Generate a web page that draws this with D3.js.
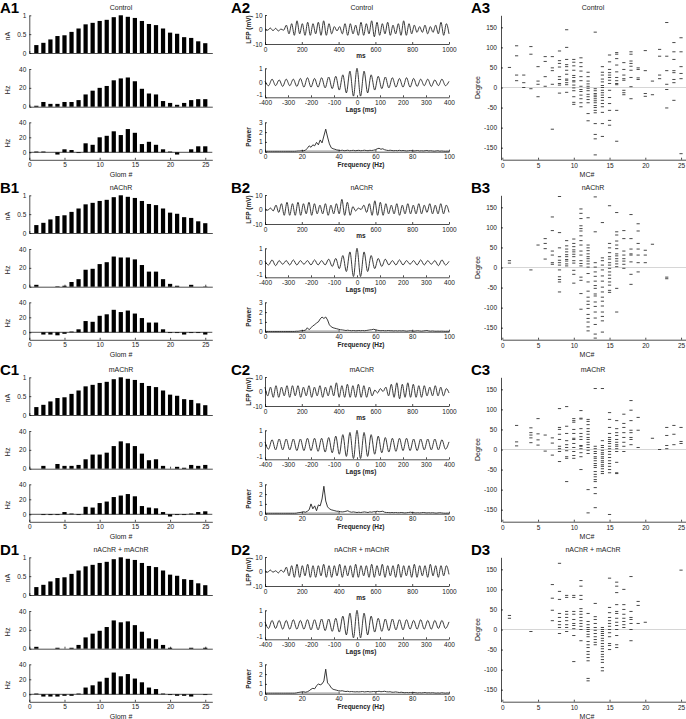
<!DOCTYPE html>
<html>
<head>
<meta charset="utf-8">
<script src="https://cdn.jsdelivr.net/npm/d3@7"></script>
<style>
body { margin: 0; background: #fff; }
svg { display: block; background: #fff; font-family: "Liberation Sans", Arial, sans-serif; }
.axis path, .axis line { stroke: #000; stroke-width: 0.7; }
.axis text { font-size: 6.5px; fill: #222; font-family: "Liberation Sans", Arial, sans-serif; }
.lbl { font-size: 7px; fill: #222; }
.blbl { font-size: 6.5px; font-weight: bold; fill: #222; }
.panel { font-size: 15px; font-weight: bold; fill: #000; }
</style>
</head>
<body>
<svg></svg>
<script>
var conditions = ["Control", "nAChR", "mAChR", "nAChR + mAChR"],
    letters = ["A", "B", "C", "D"]

// column 1: glomerular input and rates
var glomCurrent = [0.21, 0.27, 0.36, 0.45, 0.47, 0.56, 0.65, 0.76, 0.80, 0.85, 0.88, 0.95, 1.0, 0.96, 0.93, 0.85, 0.77, 0.74, 0.65, 0.54, 0.51, 0.42, 0.40, 0.31, 0.26]

var rateControl = [1, 5, 3, 3, 5, 5, 7, 13, 17, 20, 22, 28, 30, 31, 27, 19, 14, 13, 6, 4, 2, 4, 7, 8, 8]
var rateNAChR = [2, 0, 0, 0.5, 1, 5, 8, 18, 19, 24, 26, 32, 31, 31, 29, 23, 16, 16, 8, 3, 1, 0, 2, 0, 0.3]
var rateMAChR = [0, 3, 0, 5, 3, 3, 4, 10, 15, 15, 17, 24, 29, 27, 24, 16, 9, 10, 3, 0, 2, 1, 4, 3, 4]
var rateBoth = [2, 0, 0, 1, 0, 1, 4, 12, 16, 19, 23, 30, 28, 29, 25, 18, 11, 10, 4, 1, 0, 0, 1, 0, 1]

var diffControl = [1, 1, 0, -3, 4, 3, -1, 12, 10, 20, 22, 28, 23, 31, 26, 11, 14, 10, 4, 1, -3, 0, 4, 8, 8]
var diffNAChR = [0, -3, -3, -4, -2, 1, 4, 15, 14, 22, 24, 30, 27, 29, 25, 19, 13, 13, 4, -1, -1, -3, -1, -1, -3]
var diffMAChR = [0, -1, -1, -1, 3, 1, -1, 10, 9, 15, 17, 23, 25, 27, 24, 11, 9, 8, 3, -3, -1, -1, 1, 3, 4]
var diffBoth = [1, -3, -3, -3, -2, -2, 1, 9, 12, 17, 22, 29, 24, 27, 21, 16, 9, 7, 1, -1, -2, -2, -3, 0, -1]

// column 2: LFP extrema (0-1000 ms), autocorrelation extrema (lag >= 0), power (0-100 Hz)
var lfpControl = [0.5,-0.5, 1,-0.8, 0.8,-1, 0.3,-0.5, 3,-3, 4,-4, 6,-3, 4,-4, 5,-4, 4,-3, 5,-4, 6,-4, 4,-3, 2,-1, 2,-3, 4,-4, 4,-3, 3,-4, 5,-4, 4,-3, 6,-5, 5,-4, 4,-3, 5,-4, 3,-3, 4,-4, 6,-4, 4,-3, 3,-2, 2,-2, 3,-3, 2,-2, 3,-3, 5,-4, 4,-3]
var lfpNAChR = [0.5,-0.5, 1,-1, 3,-2, 4,-4, 5,-4, 4,-4, 5,-4, 4,-3, 5,-4, 4,-3, 3,-3, 4,-4, 3,-3, 4,-3, 7,-4, 5,-4, 2,-1, 1,0, 3,-2, 4,-4, 6,-4, 5,-4, 4,-3, 3,-3, 4,-4, 3,-3, 4,-3, 3,-3, 4,-3, 3,-2, 4,-3, 3,-3, 4,-3, 3,-2]
var lfpMAChR = [3,-3, 3,-4, 4,-4, 3,-3, 4,-4, 4,-3, 4,-4, 3,-3, 4,-4, 3,-3, 4,-4, 3,-3, 4,-3, 6,-4, 4,-4, 5,-4, 4,-4, 5,-4, 4,-4, 3,-3, 1,-1, 2,0, 3,-3, 5,-4, 6,-5, 5,-4, 6,-4, 5,-4, 4,-4, 4,-3, 3,-3, 4,-3, 3,-3, 2,-1]
var lfpBoth = [0.5,-0.5, 1,-0.5, 0.5,-1, 1,-0.5, 3,-3, 4,-4, 5,-4, 4,-3, 5,-4, 4,-4, 4,-3, 5,-4, 4,-4, 4,-3, 5,-4, 4,-3, 4,-4, 5,-4, 4,-3, 4,-4, 5,-4, 4,-3, 5,-4, 4,-3, 4,-4, 5,-4, 4,-3, 4,-4, 5,-4, 4,-3, 4,-4, 5,-3, 4,-4, 4,-3, 4,-2]

var acorrControl = [1, -0.92, 0.8, -0.7, 0.55, -0.5, 0.45, -0.4, 0.4, -0.35, 0.35, -0.3, 0.3, -0.3, 0.35, -0.3, 0.3, -0.25, 0.25, -0.2, 0.25, -0.25, 0.2, -0.2, 0.25, -0.2, 0.1]
var acorrNAChR = [1, -0.95, 0.75, -0.6, 0.5, -0.4, 0.3, -0.25, 0.25, -0.15, 0.15, -0.15, 0.2, -0.15, 0.15, -0.1, 0.15, -0.15, 0.2, -0.15, 0.15, -0.1, 0.15, -0.2, 0.2, -0.15, 0.1]
var acorrMAChR = [1, -0.95, 0.85, -0.8, 0.7, -0.65, 0.6, -0.55, 0.5, -0.5, 0.45, -0.45, 0.45, -0.4, 0.45, -0.4, 0.4, -0.4, 0.4, -0.35, 0.4, -0.35, 0.4, -0.35, 0.35, -0.3, 0.2]
var acorrBoth = [1, -0.9, 0.8, -0.7, 0.6, -0.5, 0.45, -0.45, 0.4, -0.4, 0.4, -0.35, 0.35, -0.35, 0.35, -0.3, 0.3, -0.3, 0.35, -0.3, 0.3, -0.3, 0.3, -0.25, 0.3, -0.25, 0.2]

var powerControl = [0.05,0.05,0.05,0.05,0.05,0.05,0.05,0.05,0.05,0.05,0.05,0.05,0.05,0.05,0.05,0.05,0.05,0.06,0.08,0.08,
  0.1,0.1,0.15,0.35,0.6,0.45,0.7,0.6,0.95,0.7, 1.2,0.9,1.6,2.3,1.5,0.8,0.4,0.3,0.25,0.18,
  0.15,0.12,0.15,0.1,0.12,0.15,0.1,0.12,0.14,0.1, 0.12,0.14,0.1,0.12,0.15,0.12,0.1,0.14,0.12,0.15,
  0.2,0.3,0.35,0.25,0.3,0.2,0.15,0.12,0.15,0.12, 0.1,0.12,0.1,0.14,0.1,0.12,0.1,0.08,0.1,0.12,
  0.1,0.08,0.1,0.12,0.08,0.1,0.08,0.1,0.12,0.08, 0.1,0.08,0.06,0.08,0.1,0.06,0.08,0.06,0.05,0.06, 0.05]
var powerNAChR = [0.03,0.03,0.03,0.03,0.03,0.03,0.03,0.03,0.03,0.03,0.03,0.03,0.03,0.03,0.03,0.03,0.03,0.05,0.05,0.08,
  0.1,0.12,0.15,0.4,0.2,0.4,0.6,0.7,0.9,1.0, 1.3,1.5,1.35,1.5,1.2,0.7,0.5,0.4,0.35,0.3,
  0.25,0.2,0.18,0.15,0.12,0.15,0.12,0.1,0.12,0.1, 0.1,0.12,0.1,0.12,0.1,0.12,0.15,0.18,0.2,0.25,
  0.2,0.15,0.12,0.1,0.12,0.1,0.1,0.12,0.1,0.1, 0.08,0.1,0.08,0.1,0.08,0.1,0.08,0.06,0.08,0.1,
  0.08,0.06,0.08,0.1,0.08,0.06,0.08,0.1,0.12,0.08, 0.06,0.08,0.06,0.05,0.06,0.05,0.06,0.05,0.04,0.05, 0.04]
var powerMAChR = [0.05,0.05,0.05,0.05,0.05,0.05,0.05,0.05,0.05,0.05,0.05,0.05,0.05,0.05,0.05,0.05,0.05,0.06,0.1,0.12,
  0.15,0.2,0.15,0.25,0.4,1.0,0.5,0.8,0.3,0.9, 0.8,1.5,2.8,1.3,0.7,0.5,0.4,0.35,0.3,0.25,
  0.25,0.2,0.18,0.2,0.25,0.3,0.2,0.15,0.18,0.15, 0.12,0.15,0.12,0.15,0.18,0.15,0.12,0.18,0.15,0.2,
  0.2,0.25,0.2,0.22,0.25,0.15,0.12,0.12,0.1,0.12, 0.1,0.12,0.1,0.1,0.12,0.1,0.08,0.1,0.12,0.15,
  0.12,0.1,0.08,0.1,0.08,0.1,0.12,0.1,0.08,0.1, 0.08,0.1,0.08,0.06,0.08,0.1,0.08,0.06,0.05,0.06, 0.05]
var powerBoth = [0.06,0.06,0.06,0.06,0.06,0.06,0.06,0.06,0.06,0.06,0.06,0.06,0.06,0.06,0.06,0.06,0.06,0.08,0.12,0.15,
  0.18,0.2,0.15,0.2,0.3,0.45,0.55,0.5,0.8,1.0, 0.9,1.0,1.3,2.5,1.1,0.9,0.6,0.45,0.4,0.35,
  0.3,0.28,0.3,0.25,0.22,0.25,0.2,0.22,0.2,0.18, 0.2,0.18,0.2,0.22,0.18,0.2,0.22,0.18,0.2,0.22,
  0.2,0.22,0.25,0.2,0.22,0.25,0.2,0.18,0.2,0.15, 0.15,0.18,0.15,0.12,0.15,0.12,0.1,0.12,0.1,0.12,
  0.1,0.12,0.1,0.08,0.1,0.08,0.1,0.12,0.08,0.1, 0.08,0.1,0.08,0.06,0.08,0.06,0.1,0.08,0.06,0.08, 0.06]
var gammaBand = [20, 40]

// column 3: spike phase (degree) per mitral cell, MC1..MC25
var phaseControl = [
  [50], [104, 79, 31, 17], [31, 12, 0], [102, 83, -3], [52, 16, 8, -23],
  [77, 65, 27, 3], [77, 49, 42, 8, -104], [91, 67, 60, 51, 27, 20, 10, 6, -14],
  [144, 100, 70, 57, 52, 43, 33, 21, 18, 12, 7, -12],
  [70, 63, 54, 43, 30, 25, 17, 14, 6, -1, -8, -23, -37, -42],
  [74, 62, 52, 41, 27, 17, 3, -5, -10, -19, -28, -38, -48],
  [38, 27, 16, 9, 3, -2, -8, -17, -23, -30, -38, -65, -83],
  [138, -3, -8, -15, -19, -23, -28, -33, -38, -45, -50, -57, -63, -90, -117, -128, -168],
  [52, 38, 31, 21, 14, 5, 0, -7, -13, -19, -25, -32, -40, -48, -62, -90, -122],
  [81, 64, 45, 37, 31, 25, 18, 10, -7, -25, -40, -57, -82, -94],
  [87, 83, 72, 56, 39, 25, 17, 10, 7, -57, -134],
  [62, 45, 31, 22, 18, -7, -13, -18], [89, 83, 66, 60, 53, 43, 25, 2, -28],
  [49, 45, 24, 20], [92, 42, -15, -22], [16, -18], [95, 78, 31, 22],
  [162, 78, 42, 8, -5, -51], [112, 89, 70, 42, 37, 20, 12, -32], [124, 89, 52, 35, 22, -165]
]
var phaseNAChR = [
  [17, 11], [], [], [-6], [56], [72, 60, 47, 21], [126, 92, 41, 31, 12, 8],
  [177, 87, 49, 27, 18, 12, 6, -6, -23, -30, -36, -61],
  [67, 54, 46, 39, 32, 27, 20, 16, 9, 4],
  [71, 60, 52, 44, 39, 33, 27, 17, 11, -7, -17, -39],
  [146, 135, 122, 104, 97, 91, 79, 67, 56, 41, 31, 17, 10, 4, -24, -32, -65, -104],
  [124, 56, 49, 42, 34, 27, 22, 16, 9, 1, -15, -36, -59, -74, -84, -92, -102, -117, -127, -136, -148, -158],
  [176, 89, 12, 1, -11, -22, -34, -45, -52, -66, -71, -86, -97, -111, -126, -142, -166, -176],
  [112, 24, 17, 6, -6, -21, -34, -49, -61, -74, -84, -96, -111, -122, -133, -161],
  [154, 60, 49, 37, 27, 21, 12, 6, -2, -11, -19, -27, -36, -44, -57, -62],
  [137, 89, 81, 66, 56, 47, 34, 29, 22, 16, 9, 2, -52, -111],
  [92, 72, 41, 31, 22, 16, 8, -2], [132, 72, 46, 34, 31, 14, -17, -42],
  [109, 91, 60, 46, 31, 12, -11], [43, 31, 12], [58], [], [-24, -28], [], []
]
var phaseMAChR = [
  [], [60, 19, 9], [], [54, 42, 36, 29, 17], [77, 39, 24, 11], [36, -4], [29, 16, -14],
  [102, 55, 50, 38, 25, 8, 2, -5, -30],
  [107, 58, 40, 22, 12, 5, -3, -18, -22, -80],
  [77, 72, 68, 50, 40, 28, 25, 15, 5, -5, -15, -22],
  [97, 78, 76, 52, 40, 32, 25, 10, 8, 2, -8, -18, -50],
  [75, 70, 62, 52, 45, 38, 30, 25, 18, 12, 5, -2, -10, -100, -158],
  [152, 8, 2, -5, -10, -18, -22, -28, -35, -40, -45, -55, -62, -68, -75, -80, -95, -110, -145],
  [152, 22, 10, 5, -2, -8, -12, -18, -22, -28, -32, -38, -42, -48, -55, -60],
  [92, 75, 55, 40, 30, 25, 20, 15, 8, 2, -5, -12, -20, -28, -35, -42, -50, -58, -162],
  [72, 52, 42, 35, 25, 18, 12, 8, 2, -5, -32, -58, -60],
  [88, 65, 55, 42, 30, 18, 8, -5], [122, 98, 72, 48, 42, 30, 25, 12],
  [80, 48, 5], [], [28], [0], [55, 35, 10, 2], [60, 38, 12], [55, 20, 15]
]
var phaseBoth = [
  [35, 28], [], [], [-5], [], [], [112, 78, 48, 22],
  [165, 95, 75, 40, 30, 20, 12, 5, -10],
  [85, 80, 45, 38, 30, 22, 12, 5, -5],
  [85, 80, 45, 38, 25, 15, 10, 2, -15, -80],
  [122, 108, 85, 75, 52, 45, 38, 30, 22, 15, 8, 0, -28],
  [40, 20, 12, 5, 0, -5, -12, -18, -30, -38, -45, -55, -62, -70, -78, -122, -128],
  [65, 32, 25, 15, 5, -2, -10, -18, -25, -32, -38],
  [5, 0, -5, -10, -15, -22, -28, -35, -42, -48, -55, -62, -68, -75, -82, -95, -103],
  [128, 55, 42, 30, 22, 15, 8, 0, -8, -18, -35, -40, -50],
  [118, 108, 92, 62, 45, 40, 28, 18, 10, 0, -15, -38, -45],
  [100, 62, 50, 38, 28, 20, 12, 5], [132, 45, 30, 25, 15, 0, -28],
  [70, 60, 15], [18], [], [], [], [], [148]
]

var rates = [rateControl, rateNAChR, rateMAChR, rateBoth],
    diffs = [diffControl, diffNAChR, diffMAChR, diffBoth],
    lfps = [lfpControl, lfpNAChR, lfpMAChR, lfpBoth],
    acorrs = [acorrControl, acorrNAChR, acorrMAChR, acorrBoth],
    powers = [powerControl, powerNAChR, powerMAChR, powerBoth],
    phases = [phaseControl, phaseNAChR, phaseMAChR, phaseBoth]

var rowShift = [0, 180, 362, 542]

var svg = d3.select("svg").attr("width", 686).attr("height", 719)

function axis(g, a, tx, ty) {
    return g.append("g").attr("class", "axis")
        .attr("transform", "translate(" + tx + "," + ty + ")")
        .call(a)
}

function text(g, cls, x, y, s, rotate) {
    var t = g.append("text").attr("class", cls).attr("text-anchor", "middle").text(s)
    if (rotate) t.attr("transform", "translate(" + x + "," + y + ") rotate(-90)")
    else t.attr("x", x).attr("y", y)
    return t
}

var xGlom = d3.scaleLinear().domain([0, 26]).range([29.3, 212.3])
var xMs = d3.scaleLinear().domain([0, 1000]).range([265, 449]),
    xLag = d3.scaleLinear().domain([-400, 400]).range([265, 449]),
    xHz = d3.scaleLinear().domain([0, 100]).range([265, 449])
var xMC = d3.scaleLinear().domain([0, 26]).range([502.3, 688.2])

rowShift.forEach(function(dy, r) {
    var g = svg.append("g").attr("transform", "translate(0," + dy + ")")

    // ---------- column 1 ----------
    text(g, "panel", 0, 13, letters[r] + "1").attr("text-anchor", "start")
    text(g, "lbl", 121, 9.5, conditions[r])

    var subs = [
        {vals: glomCurrent, dom: [0, 1], rng: [53, 15.3], ticks: [0, 0.5, 1], lab: "nA"},
        {vals: rates[r], dom: [0, 40], rng: [106.7, 69], ticks: [0, 20, 40], lab: "Hz"},
        {vals: diffs[r], dom: [-10, 40], rng: [159.8, 122.3], ticks: [0, 20, 40], lab: "Hz", last: true}
    ]
    subs.forEach(function(s) {
        var y = d3.scaleLinear().domain(s.dom).range(s.rng)
        var bw = xGlom(0.6) - xGlom(0)
        if (s.last) {
            g.append("line").attr("x1", xGlom(0)).attr("x2", xGlom(26))
                .attr("y1", y(0)).attr("y2", y(0)).attr("stroke", "#000").attr("stroke-width", 0.7)
        }
        g.append("g").selectAll("rect").data(s.vals).enter().append("rect")
            .attr("x", function(d, i) { return xGlom(i + 1) - bw / 2 })
            .attr("y", function(d) { return y(Math.max(0, d)) })
            .attr("width", bw)
            .attr("height", function(d) { return Math.abs(y(d) - y(0)) })
            .attr("fill", "#000")
        axis(g, d3.axisLeft(y).tickValues(s.ticks).tickSizeInner(-2).tickSizeOuter(0).tickPadding(3).tickFormat(String), xGlom(0), 0)
        var xa = d3.axisBottom(xGlom).tickValues([0, 5, 10, 15, 20, 25]).tickSizeInner(-2).tickSizeOuter(0).tickPadding(3)
        if (!s.last) xa.tickFormat("")
        axis(g, xa, 0, s.rng[0])
        text(g, "lbl", 10, (s.rng[0] + s.rng[1]) / 2 + 2, s.lab, true)
    })
    text(g, "lbl", 121, 176.5, "Glom #")

    // ---------- column 2 ----------
    text(g, "panel", 231, 13, letters[r] + "2").attr("text-anchor", "start")
    text(g, "lbl", 361.7, 9.5, conditions[r])

    // LFP trace
    var yLfp = d3.scaleLinear().domain([-10, 10]).range([44, 15])
    var lfp = lfps[r]
    var tIdx = d3.scaleLinear().domain([0, lfp.length - 1]).range([0, 1000])
    g.append("path").datum(lfp)
        .attr("d", d3.line().curve(d3.curveMonotoneX)
            .x(function(d, i) { return xMs(tIdx(i)) })
            .y(function(d) { return yLfp(d) }))
        .attr("fill", "none").attr("stroke", "#222").attr("stroke-width", 0.9)
    axis(g, d3.axisLeft(yLfp).tickValues([-10, 0, 10]).tickSizeInner(-2).tickSizeOuter(0).tickPadding(2.5).tickFormat(String), 265, 0)
    axis(g, d3.axisBottom(xMs).tickValues([0, 200, 400, 600, 800, 1000]).tickSizeInner(-2).tickSizeOuter(0).tickPadding(3).tickFormat(String), 0, 44)
    text(g, "blbl", 361, 58, "ms")
    text(g, "blbl", 251, 29.5, "LFP (mV)", true)

    // autocorrelation, symmetric in lag
    var yAc = d3.scaleLinear().domain([-1, 1]).range([97.3, 68.3])
    var half = acorrs[r]
    var full = half.slice(1).reverse().concat(half)
    var lagIdx = d3.scaleLinear().domain([0, full.length - 1]).range([-400, 400])
    g.append("path").datum(full)
        .attr("d", d3.line().curve(d3.curveMonotoneX)
            .x(function(d, i) { return xLag(lagIdx(i)) })
            .y(function(d) { return yAc(d) }))
        .attr("fill", "none").attr("stroke", "#222").attr("stroke-width", 0.9)
    var acAxis = axis(g, d3.axisLeft(yAc).tickValues([-1, 0, 1]).tickSizeInner(-2).tickSizeOuter(0).tickPadding(2.5).tickFormat(String), 265, 0)
    acAxis.selectAll("text").filter(function(d) { return d === -1 }).attr("dy", "-0.1em")
    axis(g, d3.axisBottom(xLag).tickValues(d3.range(-400, 401, 100)).tickSizeInner(-2).tickSizeOuter(0).tickPadding(3.5).tickFormat(String), 0, 97.3)
    text(g, "blbl", 361, 111.5, "Lags (ms)")

    // power spectrum
    var yPow = d3.scaleLinear().domain([0, 3]).range([151.7, 122.3])
    g.append("line").attr("x1", xHz(gammaBand[0])).attr("x2", xHz(gammaBand[1]))
        .attr("y1", yPow(0) - 1).attr("y2", yPow(0) - 1)
        .attr("stroke", "#ccc").attr("stroke-width", 1.5)
    g.append("path").datum(powers[r])
        .attr("d", d3.line()
            .x(function(d, i) { return xHz(i) })
            .y(function(d) { return yPow(d) }))
        .attr("fill", "none").attr("stroke", "#222").attr("stroke-width", 0.9)
    axis(g, d3.axisLeft(yPow).tickValues([0, 1, 2, 3]).tickSizeInner(-2).tickSizeOuter(0).tickPadding(2.5).tickFormat(String), 265, 0)
    axis(g, d3.axisBottom(xHz).tickValues([0, 20, 40, 60, 80, 100]).tickSizeInner(-2).tickSizeOuter(0).tickPadding(3).tickFormat(String), 0, 151.7)
    text(g, "blbl", 361, 166.5, "Frequency (Hz)")
    text(g, "blbl", 251, 137, "Power", true)

    // ---------- column 3 ----------
    text(g, "panel", 471, 13, letters[r] + "3").attr("text-anchor", "start")
    text(g, "lbl", 593, 9.5, conditions[r])
    var yDeg = d3.scaleLinear().domain([-180, 180]).range([159.7, 15.3])
    g.append("line").attr("x1", xMC(0)).attr("x2", xMC(26))
        .attr("y1", yDeg(0)).attr("y2", yDeg(0)).attr("stroke", "#ccc").attr("stroke-width", 0.8)
    var pts = []
    phases[r].forEach(function(list, i) {
        list.forEach(function(d) { pts.push({mc: i + 1, deg: d}) })
    })
    g.append("g").selectAll("line").data(pts).enter().append("line")
        .attr("x1", function(d) { return xMC(d.mc) - 1.6 })
        .attr("x2", function(d) { return xMC(d.mc) + 1.6 })
        .attr("y1", function(d) { return yDeg(d.deg) })
        .attr("y2", function(d) { return yDeg(d.deg) })
        .attr("stroke", "#333").attr("stroke-width", 0.9)
    axis(g, d3.axisLeft(yDeg).tickValues(d3.range(-150, 151, 50)).tickSizeInner(-2).tickSizeOuter(0).tickPadding(4).tickFormat(String), 501, 0)
    axis(g, d3.axisBottom(xMC).tickValues([0, 5, 10, 15, 20, 25]).tickSizeInner(-2).tickSizeOuter(0).tickPadding(3.5).tickFormat(String), 0, 159.7)
    text(g, "lbl", 480, 87.5, "Degree", true)
    text(g, "lbl", 587, 176.5, "MC#")
})
</script>
</body>
</html>
